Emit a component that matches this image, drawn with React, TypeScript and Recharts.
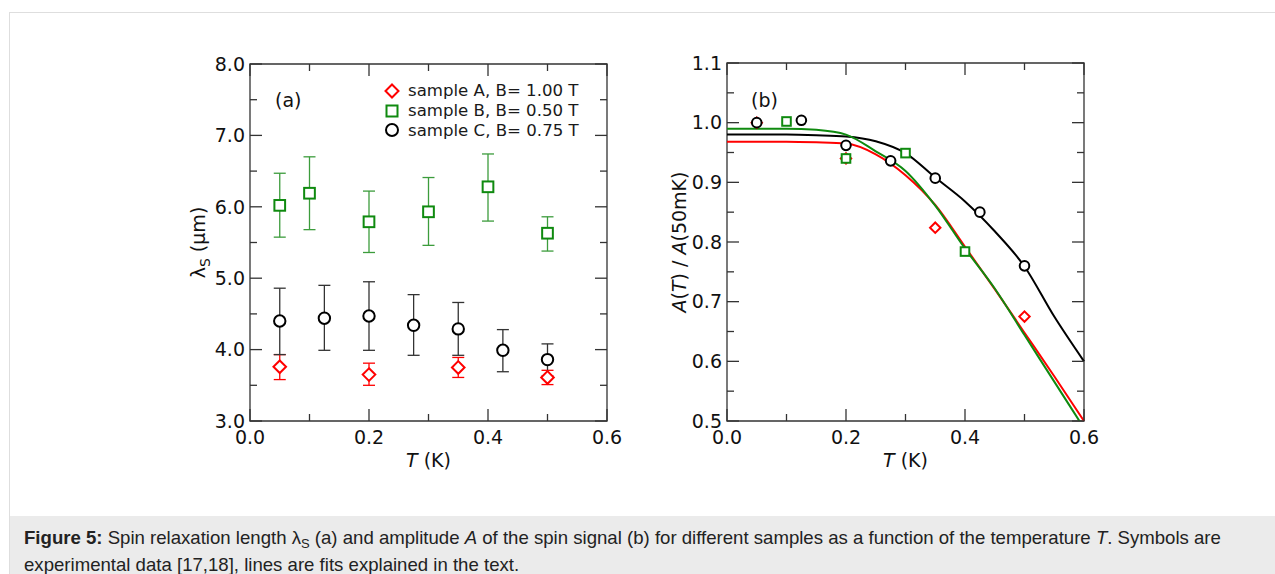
import React from "react";
import { ComposedChart, Scatter, Line, XAxis, YAxis, ErrorBar, Legend, Label, ReferenceArea } from "recharts";

// panel (a): spin relaxation length vs T
const tA = [0.05, 0.2, 0.35, 0.5];
const lamA = [3.76, 3.65, 3.75, 3.61];
const lamAHi = [3.93, 3.81, 3.89, 3.71];
const lamALo = [3.58, 3.5, 3.61, 3.51];

const tB = [0.05, 0.1, 0.2, 0.3, 0.4, 0.5];
const lamB = [6.02, 6.19, 5.79, 5.93, 6.28, 5.63];
const lamBHi = [6.47, 6.7, 6.22, 6.41, 6.74, 5.86];
const lamBLo = [5.575, 5.68, 5.36, 5.46, 5.8, 5.38];

const tC = [0.05, 0.125, 0.2, 0.275, 0.35, 0.425, 0.5];
const lamC = [4.4, 4.44, 4.47, 4.34, 4.29, 3.99, 3.86];
const lamCHi = [4.86, 4.9, 4.95, 4.77, 4.66, 4.28, 4.08];
const lamCLo = [3.93, 3.99, 3.99, 3.92, 3.92, 3.69, 3.63];

// panel (b): normalised amplitude
const ampTA = [0.05, 0.2, 0.35, 0.5];
const ampA = [1.0, 0.94, 0.824, 0.675];
const ampTB = [0.1, 0.2, 0.3, 0.4];
const ampB = [1.002, 0.94, 0.949, 0.784];
const ampTC = [0.05, 0.125, 0.2, 0.275, 0.35, 0.425, 0.5];
const ampC = [1.0, 1.004, 0.962, 0.936, 0.907, 0.85, 0.76];

// fit curves
const fitT = [0, 0.05, 0.1, 0.15, 0.2, 0.25, 0.3, 0.35, 0.4, 0.45, 0.5, 0.55, 0.6];
const fitA = [0.968, 0.968, 0.968, 0.967, 0.965, 0.947, 0.912, 0.862, 0.792, 0.721, 0.648, 0.575, 0.5];
const fitB = [0.99, 0.99, 0.99, 0.988, 0.98, 0.952, 0.919, 0.861, 0.789, 0.722, 0.644, 0.566, 0.488];
const fitC = [0.98, 0.98, 0.98, 0.979, 0.977, 0.969, 0.949, 0.908, 0.868, 0.818, 0.759, 0.675, 0.6];

const legendNames = ["sample A, B= 1.00 T", "sample B, B= 0.50 T", "sample C, B= 0.75 T"];

const xMajor = [0, 0.2, 0.4, 0.6];
const xTicks = [0, 0.1, 0.2, 0.3, 0.4, 0.5, 0.6];
const yMajorA = [3, 4, 5, 6, 7, 8];
const yTicksA = [3, 3.5, 4, 4.5, 5, 5.5, 6, 6.5, 7, 7.5, 8];
const yMajorB = [0.5, 0.6, 0.7, 0.8, 0.9, 1.0, 1.1];
const yTicksB = [0.5, 0.55, 0.6, 0.65, 0.7, 0.75, 0.8, 0.85, 0.9, 0.95, 1.0, 1.05, 1.1];

const RED = "#ff0000";
const GREEN = "#0f8a0f";
const GREEN_ERR = "#3c9c3c";
const BLACK = "#000000";
const FONT = "DejaVu Sans";
const AXIS = "#333";

const PLOT = 357; // plot box side in px
const X_MARGIN = 10;
const Y_MARGIN = 5;

const withErr = (xs, ys, hi, lo) =>
  xs.map((T, i) => ({ T, v: ys[i], err: [ys[i] - lo[i], hi[i] - ys[i]] }));
const pts = (xs, ys) => xs.map((T, i) => ({ T, v: ys[i] }));

const f1 = (v) => Number(v).toFixed(1);
const isMajor = (list, v) => list.some((m) => Math.abs(m - v) < 1e-6);

// ticks point inward on all four sides; minor ones are shorter and unlabeled
const xTick = (major, plotH) => (props) => {
  const { x, y, payload } = props;
  const ax = y - X_MARGIN;
  const big = isMajor(major, payload.value);
  const len = big ? 12 : 7;
  return (
    <g>
      <line x1={x} x2={x} y1={ax} y2={ax - len} stroke={AXIS} strokeWidth={1.3} />
      <line x1={x} x2={x} y1={ax - plotH} y2={ax - plotH + len} stroke={AXIS} strokeWidth={1.3} />
      {big && (
        <text x={x} y={y} dy="0.71em" textAnchor="middle" fontSize={19} fontFamily={FONT} fill="#111">
          {f1(payload.value)}
        </text>
      )}
    </g>
  );
};

const yTick = (major, plotW) => (props) => {
  const { x, y, payload } = props;
  const ax = x + Y_MARGIN;
  const big = isMajor(major, payload.value);
  const len = big ? 12 : 7;
  return (
    <g>
      <line x1={ax} x2={ax + len} y1={y} y2={y} stroke={AXIS} strokeWidth={1.3} />
      <line x1={ax + plotW} x2={ax + plotW - len} y1={y} y2={y} stroke={AXIS} strokeWidth={1.3} />
      {big && (
        <text x={x} y={y} dy="0.355em" textAnchor="end" fontSize={19} fontFamily={FONT} fill="#111">
          {f1(payload.value)}
        </text>
      )}
    </g>
  );
};

const diamond = (color, r) => (p) => (
  <path
    d={`M${p.cx},${p.cy - r}L${p.cx + r},${p.cy}L${p.cx},${p.cy + r}L${p.cx - r},${p.cy}Z`}
    fill="#fff"
    stroke={color}
    strokeWidth={2}
  />
);
const square = (color, s) => (p) => (
  <rect x={p.cx - s / 2} y={p.cy - s / 2} width={s} height={s} fill="#fff" stroke={color} strokeWidth={2} />
);
const circle = (color, r) => (p) => (
  <circle cx={p.cx} cy={p.cy} r={r} fill="#fff" stroke={color} strokeWidth={2} />
);

const XTitle = (props) => {
  const vb = props.viewBox;
  return (
    <text x={vb.x + vb.width / 2} y={vb.y + 46} textAnchor="middle" fontSize={19} fontFamily={FONT} fill="#111">
      <tspan fontStyle="italic">T</tspan>
      <tspan> (K)</tspan>
    </text>
  );
};

const YTitleA = (props) => {
  const vb = props.viewBox;
  const cx = 28;
  const cy = vb.y + vb.height / 2;
  return (
    <text x={cx} y={cy} dy="0.35em" transform={`rotate(-90 ${cx} ${cy})`} textAnchor="middle" fontSize={19}
      fontFamily={FONT} fill="#111">
      λ<tspan fontSize={14} dy={5}>S</tspan>
      <tspan dy={-5}> (μm)</tspan>
    </text>
  );
};

const YTitleB = (props) => {
  const vb = props.viewBox;
  const cx = 29;
  const cy = vb.y + vb.height / 2;
  return (
    <text x={cx} y={cy} dy="0.35em" transform={`rotate(-90 ${cx} ${cy})`} textAnchor="middle" fontSize={19}
      fontFamily={FONT} fill="#111">
      <tspan fontStyle="italic">A</tspan>(<tspan fontStyle="italic">T</tspan>) / <tspan fontStyle="italic">A</tspan>(50mK)
    </text>
  );
};

const legendIcons = [diamond(RED, 6.5), square(GREEN, 11), circle(BLACK, 6)];

const LegendBox = () => (
  <div style={{ fontFamily: FONT, fontSize: 16.6, color: "#1a1a1a" }}>
    {legendNames.map((n, i) => (
      <div key={n} style={{ display: "flex", alignItems: "center", height: 19.7, whiteSpace: "nowrap" }}>
        <svg width={16} height={16}>{legendIcons[i]({ cx: 8, cy: 8 })}</svg>
        <span style={{ marginLeft: 8 }}>{n}</span>
      </div>
    ))}
  </div>
);

const PanelA = () => (
  <ComposedChart width={470} height={460} margin={{ top: 24, right: 33, left: 0, bottom: 9 }}>
    <XAxis type="number" dataKey="T" domain={[0, 0.6]} ticks={xTicks} interval={0} axisLine={false}
      tickLine={false} tickSize={0} tickMargin={X_MARGIN} height={70} tick={xTick(xMajor, PLOT)}
      label={<Label content={XTitle} />} />
    <YAxis type="number" dataKey="v" domain={[3, 8]} ticks={yTicksA} interval={0} axisLine={false}
      tickLine={false} tickSize={0} tickMargin={Y_MARGIN} width={80} tick={yTick(yMajorA, PLOT)}
      label={<Label content={YTitleA} />} />
    <ReferenceArea x1={0} x2={0.6} y1={3} y2={8} fill="none" stroke={AXIS} strokeWidth={1.3} />
    <Legend layout="vertical" align="center" verticalAlign="middle" content={LegendBox}
      wrapperStyle={{ top: 41, left: 214, width: 240 }} />
    <Scatter name={legendNames[0]} data={withErr(tA, lamA, lamAHi, lamALo)} shape={diamond(RED, 6.3)}
      isAnimationActive={false}>
      <ErrorBar dataKey="err" direction="y" width={6} stroke={RED} strokeWidth={1.3} />
    </Scatter>
    <Scatter name={legendNames[1]} data={withErr(tB, lamB, lamBHi, lamBLo)} shape={square(GREEN, 10.7)}
      isAnimationActive={false}>
      <ErrorBar dataKey="err" direction="y" width={6} stroke={GREEN_ERR} strokeWidth={1.3} />
    </Scatter>
    <Scatter name={legendNames[2]} data={withErr(tC, lamC, lamCHi, lamCLo)} shape={circle(BLACK, 5.7)}
      isAnimationActive={false}>
      <ErrorBar dataKey="err" direction="y" width={6} stroke="#333" strokeWidth={1.3} />
    </Scatter>
  </ComposedChart>
);

const PanelB = () => (
  <ComposedChart width={470} height={460} margin={{ top: 23, right: 36, left: 0, bottom: 9 }}>
    <XAxis type="number" dataKey="T" domain={[0, 0.6]} ticks={xTicks} interval={0} axisLine={false}
      tickLine={false} tickSize={0} tickMargin={X_MARGIN} height={70} tick={xTick(xMajor, PLOT + 1)}
      label={<Label content={XTitle} />} />
    <YAxis type="number" dataKey="v" domain={[0.5, 1.1]} allowDataOverflow ticks={yTicksB} interval={0}
      axisLine={false} tickLine={false} tickSize={0} tickMargin={Y_MARGIN} width={77} tick={yTick(yMajorB, PLOT)}
      label={<Label content={YTitleB} />} />
    <ReferenceArea x1={0} x2={0.6} y1={0.5} y2={1.1} fill="none" stroke={AXIS} strokeWidth={1.3} />
    <Line data={pts(fitT, fitC)} dataKey="v" type="monotone" stroke={BLACK} strokeWidth={2} dot={false}
      isAnimationActive={false} />
    <Line data={pts(fitT, fitA)} dataKey="v" type="monotone" stroke={RED} strokeWidth={2} dot={false}
      isAnimationActive={false} />
    <Line data={pts(fitT, fitB)} dataKey="v" type="monotone" stroke={GREEN} strokeWidth={2} dot={false}
      isAnimationActive={false} />
    <Scatter data={pts(ampTA, ampA)} shape={diamond(RED, 5.2)} isAnimationActive={false} />
    <Scatter data={pts(ampTB, ampB)} shape={square(GREEN, 8.6)} isAnimationActive={false} />
    <Scatter data={pts(ampTC, ampC)} shape={circle(BLACK, 4.8)} isAnimationActive={false} />
  </ComposedChart>
);

const panelTag = { position: "absolute", fontFamily: FONT, fontSize: 19, color: "#111", lineHeight: "22px" } as const;

export default function App() {
  return (
    <div style={{ position: "absolute", left: 0, top: 0, width: 1275, height: 574, overflow: "hidden", background: "#fff" }}>
      <div style={{ position: "absolute", left: 9, top: 12, width: 1300, height: 600, border: "1px solid #dedede" }} />
      <div style={{ position: "absolute", left: 170, top: 40 }}>
        <PanelA />
      </div>
      <div style={{ position: "absolute", left: 650, top: 40 }}>
        <PanelB />
      </div>
      <div style={{ ...panelTag, left: 275, top: 89 }}>(a)</div>
      <div style={{ ...panelTag, left: 751, top: 89 }}>(b)</div>
      <div
        style={{
          position: "absolute",
          left: 10,
          top: 516,
          width: 1275,
          height: 60,
          background: "#ebebeb",
          fontFamily: "Liberation Sans",
          fontSize: 18.6,
          lineHeight: "25px",
          color: "#222",
          padding: "9px 0 0 14px",
          boxSizing: "border-box",
          whiteSpace: "nowrap",
        }}
      >
        <b>Figure 5:</b> Spin relaxation length λ
        <span style={{ fontSize: 13, position: "relative", top: 4 }}>S</span> (a) and amplitude <i>A</i> of the spin
        signal (b) for different samples as a function of the temperature <i>T</i>. Symbols are
        <br />
        experimental data [17,18], lines are fits explained in the text.
      </div>
    </div>
  );
}
